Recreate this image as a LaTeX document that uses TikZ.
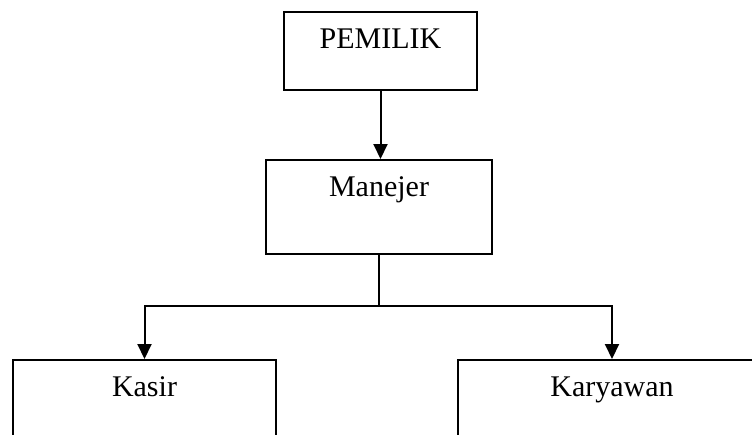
\documentclass[tikz,border=0pt]{standalone}
\usepackage{fontspec}
\setmainfont{Liberation Serif}
\usetikzlibrary{arrows.meta}

\begin{document}
\begin{tikzpicture}[x=1pt,y=-1pt,->,>={Triangle[width=14pt,length=15pt]},
                    line width=2pt]
  \tikzstyle{box}=[draw,rectangle,inner sep=0pt]
  \tikzstyle{judul}=[anchor=north,yshift=-17pt,inner sep=0pt,
                     font=\fontsize{30}{36}\selectfont]

  \clip (0,0) rectangle (752,434);

  \node[box,minimum width=193pt,minimum height=78pt,
        label={[judul]north:PEMILIK}]  (pemilik)  at (380.5,51)  {};
  \node[box,minimum width=226pt,minimum height=94pt,
        label={[judul]north:Manejer}]  (manejer)  at (379,207)   {};
  \node[box,minimum width=263pt,minimum height=100pt,
        label={[judul]north:Kasir}]    (kasir)    at (144.5,410) {};
  \node[box,minimum width=308pt,minimum height=100pt,
        label={[judul]north:Karyawan}] (karyawan) at (612,410)   {};

  \coordinate (cabang) at (379,306);

  \draw (pemilik.south) -- (pemilik.south |- manejer.north);
  \draw[-] (manejer.south) -- (cabang);
  \draw (cabang) -| (kasir.north);
  \draw (cabang) -| (karyawan.north);

\end{tikzpicture}
\end{document}
